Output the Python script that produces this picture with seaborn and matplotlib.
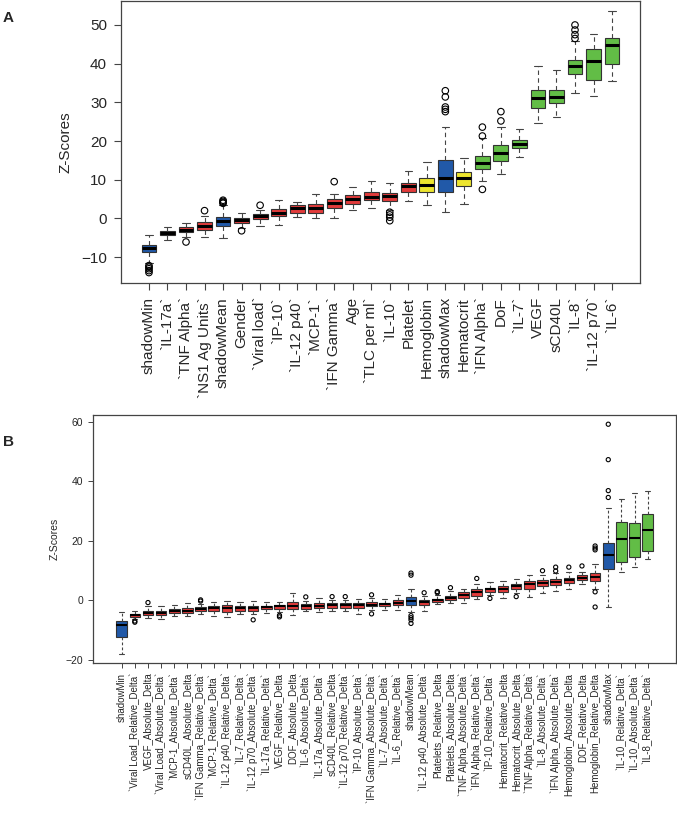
import numpy as np
import pandas as pd
import matplotlib
matplotlib.use("Agg")
import matplotlib.pyplot as plt
import seaborn as sns

sns.set_style("ticks")
plt.rcParams['font.family'] = ['Liberation Sans', 'DejaVu Sans']

COLORS = {"S": "#2159A8", "R": "#E23B3B", "T": "#EDE52E", "C": "#62BD46"}

# ---------------- Panel A data ----------------
A_names = ["shadowMin", "`IL-17a`", "`TNF Alpha`", "`NS1 Ag Units`", "shadowMean",
           "Gender", "`Viral load`", "`IP-10`", "`IL-12 p40`", "`MCP-1`",
           "`IFN Gamma`", "Age", "`TLC per ml`", "`IL-10`", "Platelet",
           "Hemoglobin", "shadowMax", "Hematocrit", "`IFN Alpha`", "DoF",
           "`IL-7`", "VEGF", "sCD40L", "`IL-8`", "`IL-12 p70`", "`IL-6`"]
A_group = ["S", "R", "R", "R", "S", "R", "R", "R", "R", "R", "R", "R", "R", "R", "R",
           "T", "S", "T", "C", "C", "C", "C", "C", "C", "C", "C"]
A_lo = [-11.5, -5.6, -4.8, -4.9, -5.0, -2.5, -2.0, -1.8, 0.4, 0.0, 0.0, 2.1, 2.6,
        2.1, 4.4, 3.4, 1.6, 3.7, 9.7, 11.6, 15.9, 24.6, 26.1, 32.5, 31.6, 35.6]
A_q1 = [-8.8, -4.3, -3.6, -2.9, -2.0, -1.1, -0.2, 0.5, 1.5, 1.5, 2.8, 3.8, 4.7,
        4.4, 6.8, 6.8, 6.7, 8.3, 12.7, 14.8, 18.2, 28.6, 29.8, 37.3, 35.9, 39.9]
A_med = [-7.7, -3.7, -2.9, -2.0, -0.7, -0.5, 0.5, 1.5, 2.6, 2.6, 4.1, 4.9, 5.6,
         5.7, 8.3, 8.6, 10.4, 10.4, 14.2, 16.8, 19.3, 31.1, 31.4, 39.4, 40.8, 44.7]
A_q3 = [-6.75, -3.2, -2.2, -0.9, 0.4, 0.0, 1.2, 2.4, 3.4, 3.7, 5.0, 6.1, 6.9,
        6.6, 9.2, 10.4, 15.2, 12.1, 16.1, 18.9, 20.2, 33.2, 33.2, 40.9, 43.7, 46.6]
A_hi = [-4.3, -2.3, -1.1, 0.5, 3.4, 1.4, 2.3, 4.7, 4.2, 6.2, 6.4, 8.2, 9.6,
        9.2, 12.3, 14.7, 23.7, 15.6, 20.9, 23.7, 23.0, 39.4, 38.3, 45.9, 47.6, 53.5]
A_fl_names = (["shadowMin"] * 5 + ["`TNF Alpha`", "`NS1 Ag Units`"] + ["shadowMean"] * 4
              + ["Gender", "`Viral load`", "`IFN Gamma`"] + ["`IL-10`"] * 4
              + ["shadowMax"] * 5 + ["`IFN Alpha`"] * 3 + ["DoF"] * 2 + ["`IL-8`"] * 4)
A_fl_vals = [-12.2, -12.6, -13.0, -13.5, -14.0, -6.1, 2.0, 4.7, 4.4, 4.1, 3.9,
             -3.2, 3.4, 9.5, 1.6, 0.9, 0.3, -0.6,
             33.0, 31.4, 28.8, 28.2, 27.6, 23.6, 21.3, 7.5, 27.6, 25.2,
             50.0, 48.7, 47.5, 46.5]

# ---------------- Panel B data ----------------
B_names = ["shadowMin", "`Viral Load_Relative_Delta`", "VEGF_Absolute_Delta",
           "`Viral Load_Absolute_Delta`", "`MCP-1_Absolute_Delta`", "sCD40L_Absolute_Delta",
           "`IFN Gamma_Relative_Delta`", "`MCP-1_Relative_Delta`", "`IL-12 p40_Relative_Delta`",
           "`IL-7_Relative_Delta`", "`IL-12 p70_Absolute_Delta`", "`IL-17a_Relative_Delta`",
           "VEGF_Relative_Delta", "DOF_Absolute_Delta", "`IL-6_Absolute_Delta`",
           "`IL-17a_Absolute_Delta`", "sCD40L_Relative_Delta", "`IL-12 p70_Relative_Delta`",
           "`IP-10_Absolute_Delta`", "`IFN Gamma_Absolute_Delta`", "`IL-7_Absolute_Delta`",
           "`IL-6_Relative_Delta`", "shadowMean", "`IL-12 p40_Absolute_Delta`",
           "Platelets_Relative_Delta", "Platelets_Absolute_Delta", "`TNF Alpha_Absolute_Delta`",
           "`IFN Alpha_Relative_Delta`", "`IP-10_Relative_Delta`", "Hematocrit_Relative_Delta",
           "Hematocrit_Absolute_Delta", "`TNF Alpha_Relative_Delta`", "`IL-8_Absolute_Delta`",
           "`IFN Alpha_Absolute_Delta`", "Hemoglobin_Absolute_Delta", "DOF_Relative_Delta",
           "Hemoglobin_Relative_Delta", "shadowMax", "`IL-10_Relative_Delta`",
           "`IL-10_Absolute_Delta`", "`IL-8_Relative_Delta`"]
B_group = ["S"] + ["R"] * 21 + ["S"] + ["R"] * 14 + ["S"] + ["C"] * 3
B_lo = [-17.9, -6.3, -6.0, -6.3, -5.2, -5.2, -4.4, -5.3, -5.6, -4.4, -4.6, -4.2, -3.9,
        -5.0, -3.7, -4.0, -3.6, -3.7, -4.4, -3.1, -3.1, -3.2, -3.8, -3.5, -1.2, -1.0,
        -0.7, 0.5, 1.8, 0.7, 2.4, 1.1, 2.6, 3.1, 3.7, 5.5, 3.8, -2.2, 9.4, 11.2, 13.9]
B_q1 = [-12.1, -5.4, -4.9, -5.0, -4.3, -4.3, -3.4, -3.4, -3.9, -3.6, -3.7, -3.0, -2.8,
        -3.0, -2.7, -2.5, -2.45, -2.4, -2.5, -2.0, -2.0, -1.6, -1.6, -1.4, -0.5, 0.0,
        0.8, 1.6, 2.7, 2.7, 3.8, 3.7, 4.8, 5.2, 5.8, 6.8, 6.5, 10.6, 13.0, 14.7, 16.7]
B_med = [-8.2, -4.8, -4.1, -4.1, -3.5, -3.4, -2.7, -2.5, -2.6, -2.5, -2.6, -2.2, -2.0,
         -1.8, -1.8, -1.7, -1.6, -1.6, -1.6, -1.4, -1.2, -0.7, -0.3, -0.5, 0.1, 0.9,
         1.9, 2.9, 3.7, 4.0, 4.7, 5.4, 6.0, 6.2, 6.8, 7.7, 8.0, 15.3, 20.8, 21.0, 23.6]
B_q3 = [-6.8, -4.4, -3.5, -3.6, -2.8, -2.6, -2.2, -1.8, -1.6, -1.8, -1.8, -1.8, -1.5,
        -0.6, -1.05, -0.9, -0.95, -0.9, -0.9, -0.6, -0.7, 0.0, 1.2, 0.2, 0.5, 1.6,
        2.7, 3.8, 4.3, 4.9, 5.5, 6.4, 7.0, 7.1, 7.7, 8.5, 9.2, 19.2, 26.4, 26.0, 29.2]
B_hi = [-3.9, -3.6, -1.8, -1.8, -1.5, -0.9, -1.1, -0.5, -0.1, -0.5, -0.3, -0.5, -0.6,
        2.35, -0.1, 0.85, 0.2, 0.2, 0.4, 0.7, 0.4, 1.8, 4.0, 1.6, 1.8, 3.1,
        3.8, 5.4, 6.1, 6.7, 7.3, 8.7, 8.6, 9.2, 9.4, 9.6, 12.4, 31.0, 34.0, 36.0, 36.9]
B_fl_names = (["`Viral Load_Relative_Delta`"] * 2 + ["VEGF_Absolute_Delta"]
              + ["`IFN Gamma_Relative_Delta`"] * 2 + ["`IL-12 p70_Absolute_Delta`"]
              + ["VEGF_Relative_Delta"] * 2 + ["`IL-6_Absolute_Delta`", "sCD40L_Relative_Delta",
                                               "`IL-12 p70_Relative_Delta`"]
              + ["`IFN Gamma_Absolute_Delta`"] * 2 + ["shadowMean"] * 6
              + ["`IL-12 p40_Absolute_Delta`"] + ["Platelets_Relative_Delta"] * 2
              + ["Platelets_Absolute_Delta", "`IFN Alpha_Relative_Delta`", "`IP-10_Relative_Delta`",
                 "Hematocrit_Absolute_Delta", "`IL-8_Absolute_Delta`"]
              + ["`IFN Alpha_Absolute_Delta`"] * 2
              + ["Hemoglobin_Absolute_Delta", "DOF_Relative_Delta"]
              + ["Hemoglobin_Relative_Delta"] * 5 + ["shadowMax"] * 4)
B_fl_vals = [-6.9, -7.3, -0.7, 0.2, -0.2, -6.5, -5.0, -5.5, 1.2, 1.3, 1.3, 1.9, -4.5,
             9.2, 8.5, -5.1, -5.8, -6.5, -7.7, 2.6, 3.0, 2.6, 4.3, 7.4, 0.7, 1.3, 10.0,
             11.2, 9.9, 11.2, 11.6, 18.3, 17.6, 17.0, 2.9, -2.2, 59.2, 47.3, 36.9, 34.6]


def long_df(names, lo, q1, med, q3, hi):
    rows = []
    for n, a, b, c, d, e in zip(names, lo, q1, med, q3, hi):
        for v in (a, b, c, d, e):
            rows.append((n, v))
    return pd.DataFrame(rows, columns=["feature", "z"])


def draw_panel(ax, names, groups, lo, q1, med, q3, hi, fl_names, fl_vals,
               med_lw, fl_size, dash):
    df = long_df(names, lo, q1, med, q3, hi)
    pal = {n: COLORS[g] for n, g in zip(names, groups)}
    sns.boxplot(data=df, x="feature", y="z", order=names, hue="feature",
                hue_order=names, palette=pal, legend=False, saturation=1,
                whis=(0, 100), showfliers=False, width=0.8,
                linecolor="#333333", linewidth=0.8,
                medianprops=dict(color="black", linewidth=med_lw, solid_capstyle="butt"),
                whiskerprops=dict(linestyle=dash, color="#444444", linewidth=0.8),
                capprops=dict(color="#444444", linewidth=0.8),
                ax=ax)
    pos = {n: i for i, n in enumerate(names)}
    fl = pd.DataFrame({"feature": fl_names, "z": fl_vals})
    fl["pos"] = fl["feature"].map(pos)
    sns.scatterplot(data=fl, x="pos", y="z", marker="o", s=fl_size,
                    facecolor="none", edgecolor="black", linewidth=0.8,
                    ax=ax, zorder=5, legend=False)
    for sp in ax.spines.values():
        sp.set_visible(True)
        sp.set_color("#444444")
        sp.set_linewidth(0.9)


fig = plt.figure(figsize=(6.77, 8.19), dpi=100)
W, H = 677, 819

# Panel A
axA = fig.add_axes([121 / W, 1 - 283 / H, 519 / W, 282 / H])
draw_panel(axA, A_names, A_group, A_lo, A_q1, A_med, A_q3, A_hi,
           A_fl_names, A_fl_vals, 2.2, 22, (0, (4, 3)))
axA.set_xlim(-1.51, 26.51)
axA.set_ylim(-16.7, 56.2)
axA.set_yticks([-10, 0, 10, 20, 30, 40, 50])
axA.set_xticks(range(len(A_names)))
axA.set_xticklabels(A_names, rotation=90, fontsize=11)
axA.tick_params(axis="both", direction="out", length=5, width=0.8, color="#444444",
                labelsize=11, pad=5)
axA.set_xlabel("")
axA.set_ylabel("Z-Scores", fontsize=11)
axA.yaxis.set_label_coords(-0.094, 0.5)

# Panel B
axB = fig.add_axes([93 / W, 1 - 663 / H, 583 / W, 248 / H])
draw_panel(axB, B_names, B_group, B_lo, B_q1, B_med, B_q3, B_hi,
           B_fl_names, B_fl_vals, 1.5, 9, (0, (2.5, 2)))
axB.set_xlim(-2.18, 42.15)
axB.set_ylim(-21.0, 62.3)
axB.set_yticks([-20, 0, 20, 40, 60])
axB.set_xticks(range(len(B_names)))
axB.set_xticklabels(B_names, rotation=90, fontsize=7)
axB.tick_params(axis="both", direction="out", length=3.5, width=0.7, color="#444444",
                pad=3.5)
axB.tick_params(axis="y", labelsize=7.5)
axB.set_xlabel("")
axB.set_ylabel("Z-Scores", fontsize=7.5)
axB.yaxis.set_label_coords(-0.057, 0.5)

fig.text(3 / W, 1 - 22 / H, "A", fontsize=11, fontweight="bold")
fig.text(3 / W, 1 - 446 / H, "B", fontsize=11, fontweight="bold")

fig.savefig("out.png", dpi=100)
